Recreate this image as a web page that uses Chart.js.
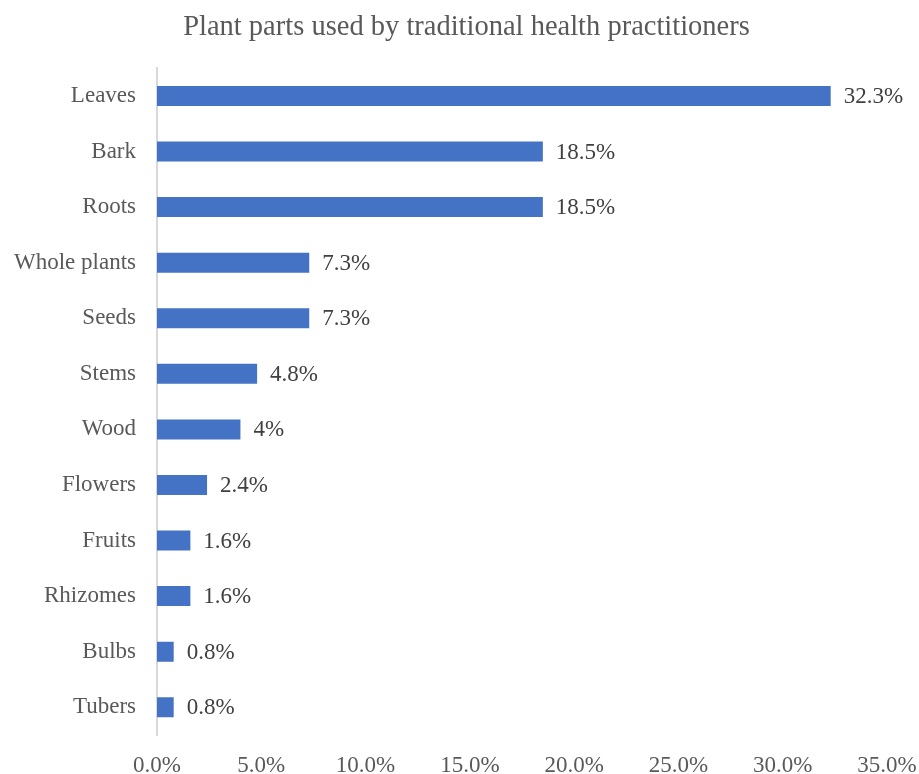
<!DOCTYPE html>
<html>
<head>
<meta charset="utf-8">
<script src="https://cdn.jsdelivr.net/npm/chart.js@4"></script>
<style>
  html, body { margin: 0; padding: 0; background: #fff; }
  #wrap { width: 919px; height: 774px; }
</style>
</head>
<body>
<div id="wrap"><canvas id="canvas" width="919" height="774"></canvas></div>
<script>
// chart data
const parts = ['Leaves', 'Bark', 'Roots', 'Whole plants', 'Seeds', 'Stems',
    'Wood', 'Flowers', 'Fruits', 'Rhizomes', 'Bulbs', 'Tubers'];
const percents = [32.3, 18.5, 18.5, 7.3, 7.3, 4.8, 4, 2.4, 1.6, 1.6, 0.8, 0.8];
const xTicks = [0, 5, 10, 15, 20, 25, 30, 35];

const serif = "'Liberation Serif', 'Times New Roman', serif";
const grey = '#595959';

// draws the value next to the end of each bar
const barLabels = {
    id: 'barLabels',
    afterDatasetsDraw(chart) {
        const ctx = chart.ctx;
        const meta = chart.getDatasetMeta(0);
        ctx.save();
        ctx.font = '23px ' + serif;
        ctx.fillStyle = '#404040';
        ctx.textAlign = 'left';
        ctx.textBaseline = 'middle';
        meta.data.forEach((bar, i) => {
            ctx.fillText(percents[i] + '%', bar.x + 13, bar.y + 1);
        });
        ctx.restore();
    }
};

let ctx = document.getElementById('canvas').getContext('2d');

let myChart = new Chart(ctx, {
    type: 'bar',
    data: {
        labels: parts,
        datasets: [{
            data: percents,
            backgroundColor: '#4472C4',
            barPercentage: 0.36,
            categoryPercentage: 1
        }]
    },
    options: {
        indexAxis: 'y',
        responsive: false,
        animation: false,
        layout: { padding: { left: 14, right: 0, top: 0, bottom: 0 } },
        plugins: {
            legend: { display: false },
            tooltip: { enabled: false },
            title: {
                display: true,
                text: 'Plant parts used by traditional health practitioners',
                color: grey,
                font: { family: serif, size: 28.5, weight: 'normal' },
                padding: { top: 10, bottom: 24 }
            }
        },
        scales: {
            x: {
                min: 0,
                max: 35,
                afterBuildTicks(scale) {
                    scale.ticks = xTicks.map(v => ({ value: v }));
                },
                afterFit(scale) {
                    scale.height = 39;
                    scale.paddingRight = 32;
                    scale.paddingLeft = 0;
                },
                grid: { display: false, drawTicks: false },
                border: { display: false },
                ticks: {
                    color: grey,
                    padding: 17,
                    font: { family: serif, size: 23 },
                    callback: v => v.toFixed(1) + '%'
                }
            },
            y: {
                afterFit(scale) { scale.width = 143; },
                grid: { display: false, drawTicks: false },
                border: { display: true, color: '#d9d9d9', width: 2 },
                ticks: {
                    color: grey,
                    padding: 21,
                    font: { family: serif, size: 23 }
                }
            }
        }
    },
    plugins: [barLabels]
});
</script>
</body>
</html>
